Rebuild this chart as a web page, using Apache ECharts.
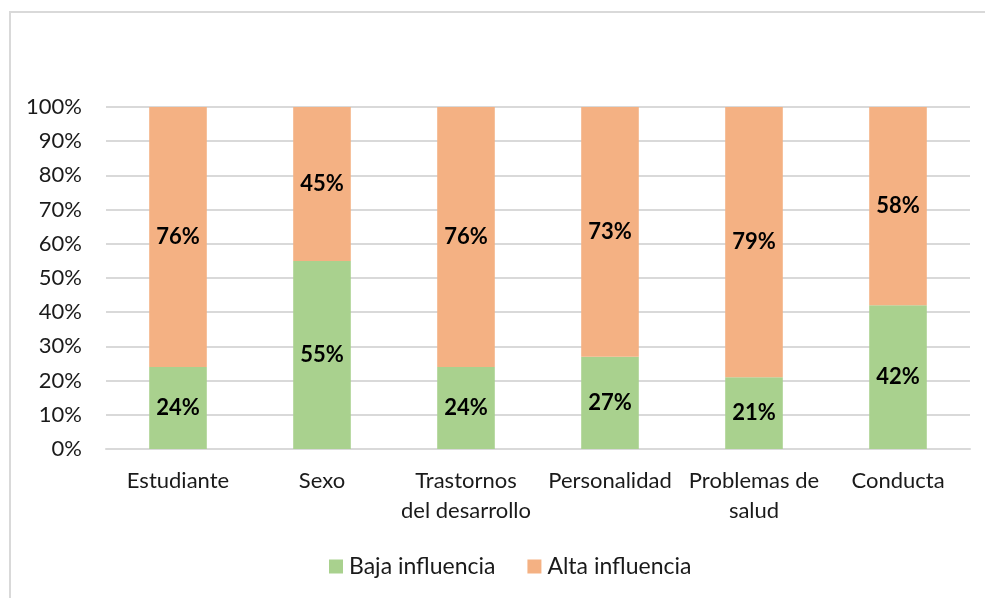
<!DOCTYPE html>
<html><head><meta charset="utf-8">
<script src="https://cdn.jsdelivr.net/npm/echarts@6/dist/echarts.min.js"></script>
<style>html,body{margin:0;padding:0;background:#fff}#c{width:985px;height:598px}</style>
</head><body><div id="c"></div>
<script>
const categories = ['Estudiante','Sexo','Trastornos\ndel desarrollo','Personalidad','Problemas de\nsalud','Conducta'];
const bajaInfluencia = [24,55,24,27,21,42];
const altaInfluencia = [76,45,76,73,79,58];
const seriesNames = ['Baja influencia','Alta influencia'];
const FONT = 'Lato, sans-serif';
const chart = echarts.init(document.getElementById('c'), null, {renderer:'canvas'});
const lbl = {show:true, position:'inside', formatter:'{c}%', fontFamily:FONT, fontSize:22, fontWeight:'bold', color:'#000'};
chart.setOption({
  animation:false,
  backgroundColor:'#fff',
  graphic:[{type:'rect', shape:{x:10,y:12,width:1000,height:600}, style:{fill:'none', stroke:'#d9d9d9', lineWidth:2}, silent:true}],
  grid:{left:106,right:15,top:107,bottom:149},
  legend:{top:550, left:324, itemWidth:14, itemHeight:14, itemGap:32, icon:'rect',
    textStyle:{fontFamily:FONT, fontSize:23, color:'#1a1a1a', padding:[0,0,0,1]}, data:seriesNames},
  xAxis:{type:'category', data:categories,
    axisLine:{lineStyle:{color:'#d9d9d9', width:2}}, axisTick:{show:false},
    axisLabel:{interval:0, margin:17, fontFamily:FONT, fontSize:22, lineHeight:30, color:'#1a1a1a'}},
  yAxis:{type:'value', min:0, max:100, interval:10,
    axisLine:{show:false}, axisTick:{show:false},
    splitLine:{lineStyle:{color:'#d9d9d9', width:2}},
    axisLabel:{formatter:'{value}%', margin:24, fontFamily:FONT, fontSize:22, color:'#1a1a1a'}},
  series:[
    {name:seriesNames[0], type:'bar', stack:'a', data:bajaInfluencia, barWidth:'40%', itemStyle:{color:'#a9d18e'}, label:lbl},
    {name:seriesNames[1], type:'bar', stack:'a', data:altaInfluencia, barWidth:'40%', itemStyle:{color:'#f4b183'}, label:lbl}
  ]
});
</script></body></html>
